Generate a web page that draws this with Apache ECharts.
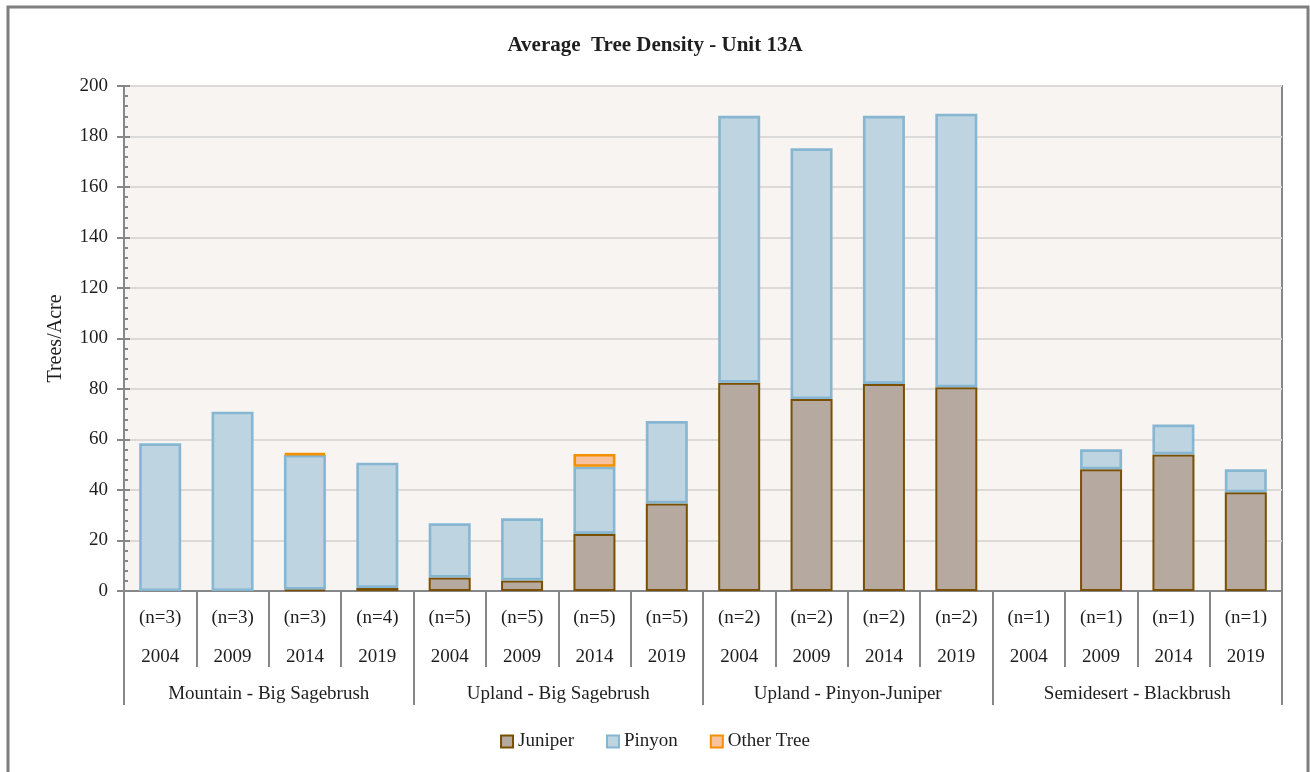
<!DOCTYPE html>
<html>
<head>
<meta charset="utf-8">
<script src="https://cdn.jsdelivr.net/npm/echarts@6/dist/echarts.min.js"></script>
<style>
  html, body { margin: 0; padding: 0; background: #ffffff; }
  #chart { width: 1310px; height: 772px; }
</style>
</head>
<body>
<div id="chart"></div>
<script>
// Sample counts and survey years, one entry per column
const sampleLabels = [
  '(n=3)', '(n=3)', '(n=3)', '(n=4)',
  '(n=5)', '(n=5)', '(n=5)', '(n=5)',
  '(n=2)', '(n=2)', '(n=2)', '(n=2)',
  '(n=1)', '(n=1)', '(n=1)', '(n=1)'
];
const years = [
  '2004', '2009', '2014', '2019',
  '2004', '2009', '2014', '2019',
  '2004', '2009', '2014', '2019',
  '2004', '2009', '2014', '2019'
];
const groups = [
  'Mountain - Big Sagebrush',
  'Upland - Big Sagebrush',
  'Upland - Pinyon-Juniper',
  'Semidesert - Blackbrush'
];

// Trees per acre by species (null = none recorded)
const juniper = [
  null, null, 0.6, 1.2,
  5.3, 4.2, 22.6, 34.7,
  82.5, 76.0, 82.0, 80.7,
  null, 48.2, 54.1, 39.1
];
const pinyon = [
  58.5, 71.0, 53.3, 49.6,
  21.5, 24.6, 26.6, 32.6,
  105.7, 99.3, 106.2, 108.3,
  null, 7.9, 11.8, 9.1
];
const otherTree = [
  null, null, 0.6, null,
  null, null, 5.1, null,
  null, null, null, null,
  null, null, null, null
];

const yTicks = { min: 0, max: 200, interval: 20 };

const serif = '"Liberation Serif", "DejaVu Serif", serif';
const axisGray = '#878787';
const textColor = '#1e1e1e';
const labelSize = 19;

const chart = echarts.init(document.getElementById('chart'), null, { renderer: 'canvas' });

chart.setOption({
  backgroundColor: '#ffffff',
  animation: false,
  title: {
    text: 'Average  Tree Density - Unit 13A',
    left: 'center',
    top: 30,
    textStyle: {
      fontFamily: serif,
      fontWeight: 'bold',
      fontSize: 21,
      color: textColor
    }
  },
  graphic: [{
    type: 'rect',
    shape: { x: 8, y: 7, width: 1300, height: 800 },
    style: { fill: 'none', stroke: '#7f7f7f', lineWidth: 3 },
    z: 100
  }],
  legend: {
    bottom: 16,
    left: 'center',
    icon: 'rect',
    itemWidth: 12,
    itemHeight: 12,
    itemGap: 32,
    textStyle: { fontFamily: serif, fontSize: labelSize, color: textColor },
    data: ['Juniper', 'Pinyon', 'Other Tree']
  },
  grid: {
    left: 124,
    top: 86,
    right: 28,
    bottom: 181,
    show: true,
    backgroundColor: '#f7f4f1',
    borderColor: axisGray,
    borderWidth: 2
  },
  xAxis: [
    {
      type: 'category',
      data: sampleLabels,
      position: 'bottom',
      axisLine: { show: true, lineStyle: { color: axisGray, width: 2 } },
      axisTick: { show: true, interval: 0, length: 76, lineStyle: { color: axisGray, width: 2 } },
      axisLabel: { interval: 0, margin: 18, fontFamily: serif, fontSize: labelSize, color: textColor }
    },
    {
      type: 'category',
      data: years,
      position: 'bottom',
      axisLine: { show: false },
      axisTick: { show: false },
      axisLabel: { interval: 0, margin: 57, fontFamily: serif, fontSize: labelSize, color: textColor }
    },
    {
      type: 'category',
      data: groups,
      position: 'bottom',
      axisLine: { show: false },
      axisTick: { show: true, interval: 0, length: 114, lineStyle: { color: axisGray, width: 2 } },
      axisLabel: { interval: 0, margin: 94, fontFamily: serif, fontSize: labelSize, color: textColor }
    }
  ],
  yAxis: [
    {
      type: 'value',
      min: yTicks.min,
      max: yTicks.max,
      interval: yTicks.interval,
      name: 'Trees/Acre',
      nameLocation: 'middle',
      nameGap: 58,
      nameTextStyle: { fontFamily: serif, fontSize: 20, color: textColor },
      axisLine: { show: true, lineStyle: { color: axisGray, width: 2 } },
      axisTick: { show: true, length: 7, lineStyle: { color: axisGray, width: 2 } },
      axisLabel: { margin: 16, fontFamily: serif, fontSize: labelSize, color: textColor },
      splitLine: { show: true, lineStyle: { color: '#dcdad8', width: 2 } }
    },
    {
      type: 'value',
      min: yTicks.min,
      max: yTicks.max,
      interval: yTicks.interval,
      position: 'left',
      axisLine: { show: false },
      axisTick: { show: true, inside: true, length: 6, lineStyle: { color: axisGray, width: 2 } },
      minorTick: { show: true, splitNumber: 5, length: 4, lineStyle: { color: axisGray, width: 2 } },
      axisLabel: { show: false },
      splitLine: { show: false }
    }
  ],
  series: [
    {
      name: 'Juniper',
      type: 'bar',
      stack: 'density',
      barWidth: 42,
      z: 2,
      itemStyle: { color: '#b6a99f', borderColor: '#7a5000', borderWidth: 2 },
      data: juniper
    },
    {
      name: 'Pinyon',
      type: 'bar',
      stack: 'density',
      barWidth: 42,
      z: 3,
      itemStyle: { color: '#bed4e1', borderColor: '#86b6d2', borderWidth: 2.6 },
      data: pinyon
    },
    {
      name: 'Other Tree',
      type: 'bar',
      stack: 'density',
      barWidth: 42,
      z: 4,
      itemStyle: { color: '#f8c29e', borderColor: '#f29000', borderWidth: 2.6 },
      data: otherTree
    }
  ]
});
</script>
</body>
</html>
